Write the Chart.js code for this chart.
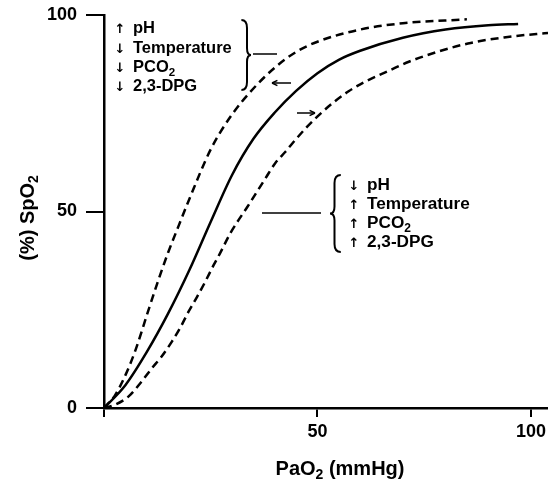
<!DOCTYPE html>
<html>
<head>
<meta charset="utf-8">
<script src="https://cdn.jsdelivr.net/npm/chart.js@4/dist/chart.umd.min.js"></script>
<style>
html,body{margin:0;padding:0;background:#fff;}
#wrap{width:548px;height:481px;}
</style>
</head>
<body>
<div id="wrap"><canvas id="c" width="548" height="481"></canvas></div>
<script>
// ---- data ----
const xTicks = [0, 50, 100];
const yTicks = [0, 50, 100];

const normalX = [0, 5, 10, 15, 20, 25, 30, 35, 40, 45, 50, 55, 60, 70, 80, 90, 97];
const normalY = [0, 5.8, 14.2, 24.0, 35.1, 47.4, 59.3, 68.5, 75.2, 80.7, 85.2, 88.6, 90.9, 94.2, 96.3, 97.4, 97.7];

const leftX = [0, 2.5, 5, 7.5, 10, 12.5, 15, 17.5, 20, 25, 30, 35, 40, 45, 50, 60, 70, 85];
const leftY = [0, 3.1, 8.3, 15.1, 23.5, 31.8, 39.5, 46.4, 53.2, 65.8, 74.7, 81.3, 86.6, 90.6, 93.2, 96.3, 97.9, 98.9];

const rightX = [0, 2.5, 5.7, 8.5, 11.2, 13.5, 15.9, 17.8, 19.8, 21.8, 23.7, 25.7, 27.2, 29.6, 31.5, 33.6, 35.8, 37.8, 40.1, 42.5, 44.8, 47.6, 49.9, 53.8, 57.3, 60.9, 64.4, 67.9, 71.4, 78.9, 85.9, 93.7, 101.6, 104];
const rightY = [0, 0.8, 2.9, 6.3, 10.1, 13.1, 16.9, 20.3, 24.5, 28.3, 32.1, 36.4, 39.4, 44.5, 47.8, 51.2, 55.0, 58.4, 62.3, 65.2, 68.2, 71.6, 74.1, 77.8, 80.6, 82.9, 84.7, 86.4, 88.1, 90.9, 92.9, 94.3, 95.2, 95.4];

const leftLabels = [
  {arrow: '↑', parts: [{t: 'pH'}]},
  {arrow: '↓', parts: [{t: 'Temperature'}]},
  {arrow: '↓', parts: [{t: 'PCO'}, {t: '2', sub: true}]},
  {arrow: '↓', parts: [{t: '2,3-DPG'}]}
];
const rightLabels = [
  {arrow: '↓', parts: [{t: 'pH'}]},
  {arrow: '↑', parts: [{t: 'Temperature'}]},
  {arrow: '↑', parts: [{t: 'PCO'}, {t: '2', sub: true}]},
  {arrow: '↑', parts: [{t: '2,3-DPG'}]}
];
const xTitle = [{t: 'PaO'}, {t: '2', sub: true}, {t: ' (mmHg)'}];
const yTitle = [{t: '(%) SpO'}, {t: '2', sub: true}];

const pts = (xs, ys) => xs.map((x, i) => ({x: x, y: ys[i]}));

const FONT = '"Liberation Sans", Arial, Helvetica, sans-serif';

function richWidth(ctx, parts, size) {
  let w = 0;
  for (const p of parts) {
    ctx.font = 'bold ' + (p.sub ? size * 0.7 : size) + 'px ' + FONT;
    w += ctx.measureText(p.t).width;
  }
  return w;
}
function drawRich(ctx, parts, x, y, size) {
  ctx.textBaseline = 'alphabetic';
  ctx.textAlign = 'left';
  let cx = x;
  for (const p of parts) {
    const s = p.sub ? size * 0.7 : size;
    ctx.font = 'bold ' + s + 'px ' + FONT;
    ctx.fillText(p.t, cx, p.sub ? y + size * 0.22 : y);
    cx += ctx.measureText(p.t).width;
  }
}
function arrowLine(ctx, x1, y1, x2, y2) {
  ctx.beginPath();
  ctx.moveTo(x1, y1); ctx.lineTo(x2, y2); ctx.stroke();
  const a = Math.atan2(y2 - y1, x2 - x1);
  const h = 6;
  ctx.beginPath();
  ctx.moveTo(x2, y2);
  ctx.lineTo(x2 - h * Math.cos(a - 0.45), y2 - h * Math.sin(a - 0.45));
  ctx.moveTo(x2, y2);
  ctx.lineTo(x2 - h * Math.cos(a + 0.45), y2 - h * Math.sin(a + 0.45));
  ctx.stroke();
}
// curly brace
function brace(ctx, x, y1, y2, dir, depth) {
  const ym = (y1 + y2) / 2;
  const d = depth * dir;
  ctx.beginPath();
  ctx.moveTo(x - d * 0.2, y1);
  ctx.quadraticCurveTo(x + d * 0.5, y1, x + d * 0.5, y1 + 8);
  ctx.lineTo(x + d * 0.5, ym - 7);
  ctx.quadraticCurveTo(x + d * 0.5, ym, x + d, ym);
  ctx.quadraticCurveTo(x + d * 0.5, ym, x + d * 0.5, ym + 7);
  ctx.lineTo(x + d * 0.5, y2 - 8);
  ctx.quadraticCurveTo(x + d * 0.5, y2, x - d * 0.2, y2);
  ctx.stroke();
}

const annot = {
  id: 'annot',
  afterDraw(chart) {
    const ctx = chart.ctx;
    ctx.save();
    ctx.fillStyle = '#000';
    ctx.strokeStyle = '#000';
    // upper-left block
    const upBase = [33, 53, 72, 91];
    leftLabels.forEach((l, i) => {
      ctx.font = 'bold 13px "DejaVu Sans", sans-serif';
      ctx.textAlign = 'center';
      ctx.textBaseline = 'alphabetic';
      ctx.fillText(l.arrow, 120, upBase[i]);
      drawRich(ctx, l.parts, 133, upBase[i], 16.5);
    });
    // lower-right block
    const loBase = [190, 209, 228, 247];
    rightLabels.forEach((l, i) => {
      ctx.font = 'bold 13px "DejaVu Sans", sans-serif';
      ctx.textAlign = 'center';
      ctx.textBaseline = 'alphabetic';
      ctx.fillText(l.arrow, 354, loBase[i]);
      drawRich(ctx, l.parts, 367, loBase[i], 17.2);
    });
    ctx.lineWidth = 2;
    brace(ctx, 243, 20, 90, 1, 8);
    brace(ctx, 339, 175, 252, -1, 9);
    ctx.lineWidth = 1.5;
    ctx.beginPath(); ctx.moveTo(253, 54); ctx.lineTo(277, 54); ctx.stroke();
    ctx.beginPath(); ctx.moveTo(262, 213); ctx.lineTo(321, 213); ctx.stroke();
    arrowLine(ctx, 291, 83, 272, 83);
    arrowLine(ctx, 297, 113, 315, 113);
    // axis titles
    const tsz = 20;
    const wx = richWidth(ctx, xTitle, tsz);
    drawRich(ctx, xTitle, 340 - wx / 2, 475, tsz);
    const wy = richWidth(ctx, yTitle, tsz);
    ctx.translate(34, 218);
    ctx.rotate(-Math.PI / 2);
    drawRich(ctx, yTitle, -wy / 2, 0, tsz);
    ctx.restore();
  }
};

const common = {pointRadius: 0, borderColor: '#000', borderWidth: 2.5, fill: false,
  cubicInterpolationMode: 'monotone'};

new Chart(document.getElementById('c'), {
  type: 'line',
  data: {
    datasets: [
      Object.assign({label: 'Normal', data: pts(normalX, normalY)}, common),
      Object.assign({label: 'Left shift', data: pts(leftX, leftY), borderDash: [8, 5]}, common),
      Object.assign({label: 'Right shift', data: pts(rightX, rightY), borderDash: [8, 5]}, common)
    ]
  },
  options: {
    responsive: false,
    animation: false,
    devicePixelRatio: 1,
    layout: {padding: {left: 0, top: 15, right: 0, bottom: 0}},
    plugins: {legend: {display: false}, tooltip: {enabled: false}},
    scales: {
      x: {
        type: 'linear', min: 0, max: 104,
        afterBuildTicks(s) { s.ticks = xTicks.map(v => ({value: v})); },
        afterFit(s) { s.height = 73; s.paddingRight = 0; s.paddingLeft = 0; },
        ticks: {
          color: '#000', font: {family: FONT, size: 18, weight: 'bold'}, padding: 4,
          maxRotation: 0,
          callback: v => (v === 0 ? '' : String(v))
        },
        grid: {display: true, drawOnChartArea: false, drawTicks: true, tickLength: 9,
          color: '#000', lineWidth: 2},
        border: {display: true, color: '#000', width: 2.5}
      },
      y: {
        type: 'linear', min: 0, max: 100,
        afterBuildTicks(s) { s.ticks = yTicks.map(v => ({value: v})); },
        afterFit(s) { s.width = 104; s.paddingTop = 0; s.paddingBottom = 0; },
        ticks: {color: '#000', font: {family: FONT, size: 18, weight: 'bold'}, padding: 9},
        grid: {display: true, drawOnChartArea: false, drawTicks: true, tickLength: 18,
          color: '#000', lineWidth: 2},
        border: {display: true, color: '#000', width: 2.5}
      }
    }
  },
  plugins: [annot]
});
</script>
</body>
</html>
